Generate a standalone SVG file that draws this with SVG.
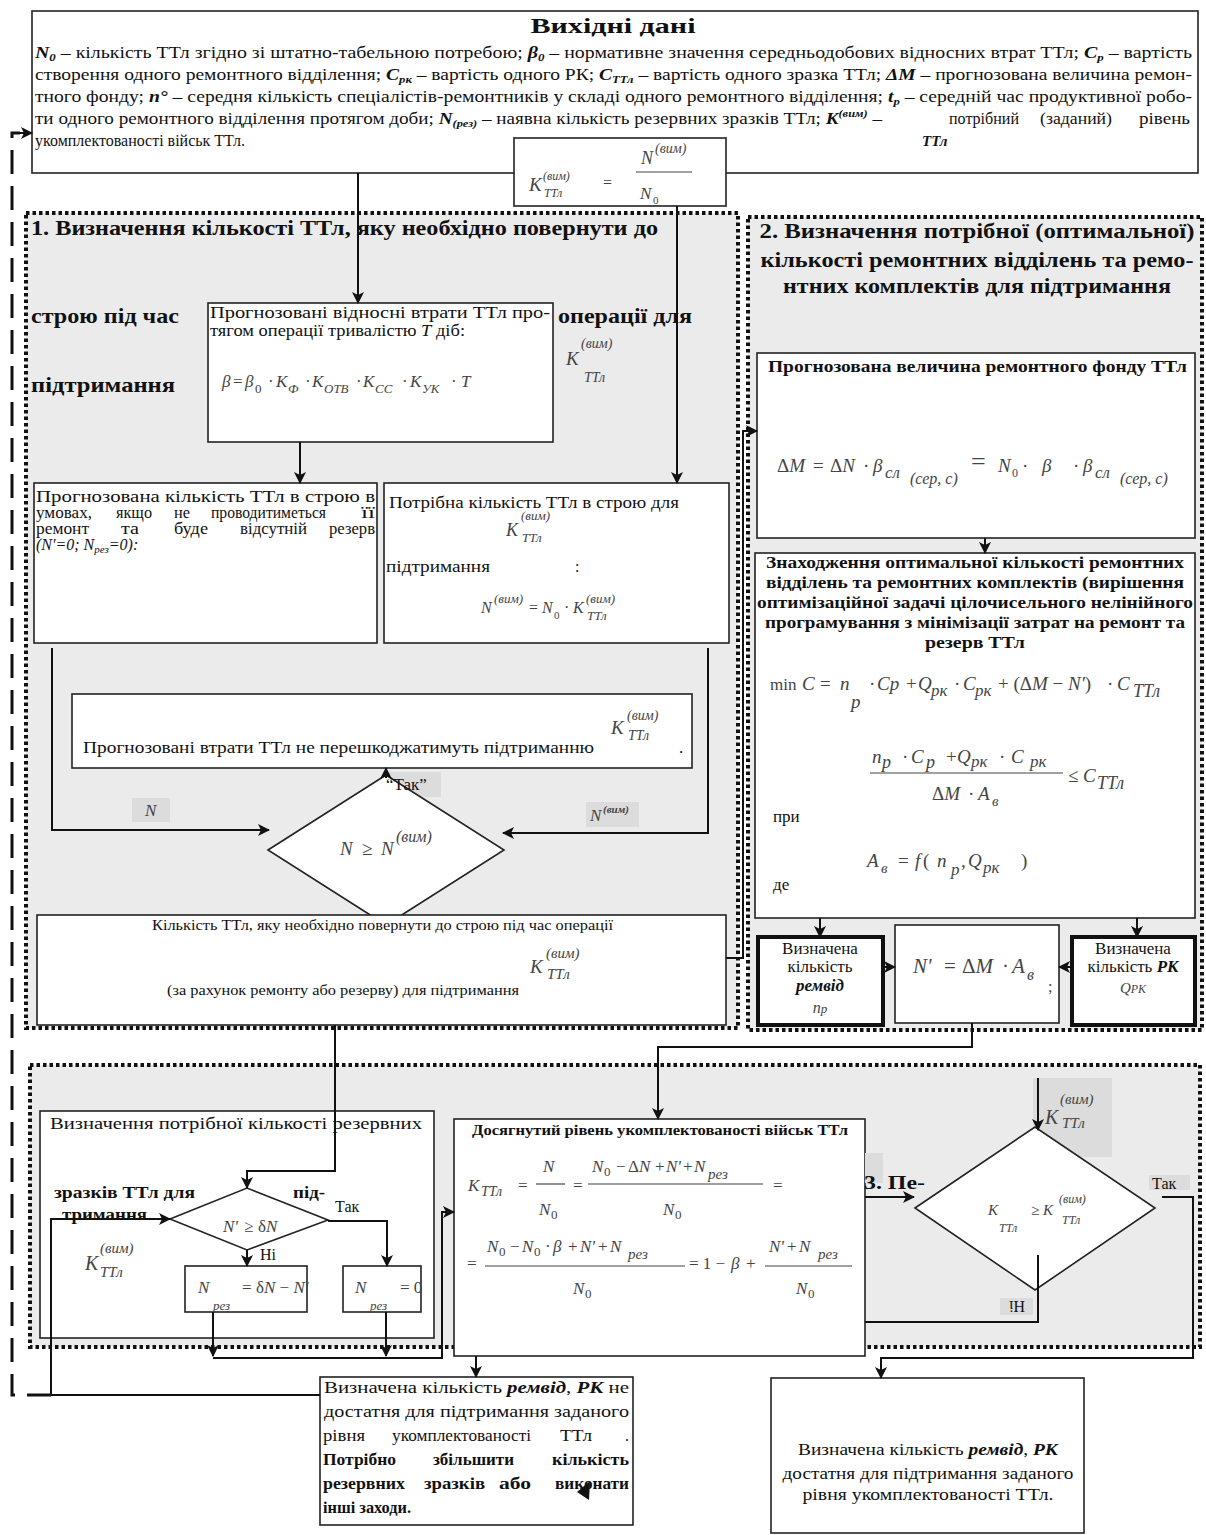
<svg xmlns="http://www.w3.org/2000/svg" width="1206" height="1535" viewBox="0 0 1206 1535">
<defs>
<style>
.t{font-family:"Liberation Serif","Times New Roman",serif;fill:#111}
.b{font-weight:bold}
.i{font-style:italic}
.bi{font-weight:bold;font-style:italic}
.m{font-family:"Liberation Serif","Times New Roman",serif;font-style:italic;fill:#444}
.u{font-style:normal}
.e{text-anchor:end}
.box{fill:#fff;stroke:#222;stroke-width:1.6}
.tb{fill:#fff;stroke:#111;stroke-width:4}
.sec{fill:#ebebeb;stroke:#111;stroke-width:4;stroke-dasharray:3.5 3}
.lab{fill:#dcdcdc}
.ln{fill:none;stroke:#111;stroke-width:2}
.arr{marker-end:url(#ah)}
.dash{fill:none;stroke:#111;stroke-width:3;stroke-dasharray:24 12}
.bar{stroke:#444;stroke-width:1.2}
</style>
<marker id="ah" markerUnits="userSpaceOnUse" markerWidth="12" markerHeight="12" refX="11" refY="6" orient="auto">
<path d="M0,0 L12,6 L0,12 L3,6 z" fill="#111"/>
</marker>
</defs>
<rect width="1206" height="1535" fill="#fff"/>

<g id="sections">
<rect class="sec" x="26" y="213" width="712" height="815"/>
<rect class="sec" x="748" y="217" width="454" height="813"/>
<rect class="sec" x="30" y="1065" width="1170" height="282"/>
</g>

<g id="node-input">
<rect class="box" x="32" y="11" width="1166" height="162"/>
<text class="t b" x="613" y="33" font-size="20" text-anchor="middle" textLength="165" lengthAdjust="spacingAndGlyphs">Вихідні дані</text>
<text class="t" x="35" y="58" font-size="17" textLength="1157" lengthAdjust="spacingAndGlyphs"><tspan class="bi">N</tspan><tspan class="bi" font-size="11" dy="3">0</tspan><tspan dy="-3"> – кількість ТТл згідно зі штатно-табельною потребою; </tspan><tspan class="bi">β</tspan><tspan class="bi" font-size="11" dy="3">0</tspan><tspan dy="-3"> – нормативне значення середньодобових відносних втрат ТТл; </tspan><tspan class="bi">C</tspan><tspan class="bi" font-size="11" dy="3">p</tspan><tspan dy="-3"> – вартість</tspan></text>
<text class="t" x="35" y="80" font-size="17" textLength="1157" lengthAdjust="spacingAndGlyphs">створення одного ремонтного відділення; <tspan class="bi">C</tspan><tspan class="bi" font-size="11" dy="3">рк</tspan><tspan dy="-3"> – вартість одного РК; </tspan><tspan class="bi">C</tspan><tspan class="bi" font-size="11" dy="3">ТТл</tspan><tspan dy="-3"> – вартість одного зразка ТТл; </tspan><tspan class="bi">ΔM</tspan> – прогнозована величина ремон-</text>
<text class="t" x="35" y="102" font-size="17" textLength="1157" lengthAdjust="spacingAndGlyphs">тного фонду; <tspan class="bi">n°</tspan> – середня кількість спеціалістів-ремонтників у складі одного ремонтного відділення; <tspan class="bi">t</tspan><tspan class="bi" font-size="11" dy="3">р</tspan><tspan dy="-3"> – середній час продуктивної робо-</tspan></text>
<text class="t" x="35" y="124" font-size="17" textLength="847" lengthAdjust="spacingAndGlyphs">ти одного ремонтного відділення протягом доби; <tspan class="bi">N</tspan><tspan class="bi" font-size="11" dy="3">(рез)</tspan><tspan dy="-3"> –  наявна кількість резервних зразків ТТл; </tspan><tspan class="bi">K</tspan><tspan class="bi" font-size="11" dy="-7">(вим)</tspan><tspan dy="7"> –</tspan></text>
<text class="t bi" x="922" y="146" font-size="15">ТТл</text>
<text class="t" x="949" y="124" font-size="17" textLength="70" lengthAdjust="spacingAndGlyphs">потрібний</text>
<text class="t" x="1040" y="124" font-size="17" textLength="72" lengthAdjust="spacingAndGlyphs">(заданий)</text>
<text class="t" x="1139" y="124" font-size="17" textLength="51" lengthAdjust="spacingAndGlyphs">рівень</text>
<text class="t" x="35" y="146" font-size="17" textLength="210" lengthAdjust="spacingAndGlyphs">укомплектованості військ ТТл.</text>
</g>

<g id="node-kreq">
<rect class="box" x="514" y="138" width="212" height="68"/>
<text class="m" font-size="19"><tspan x="529" y="191">K</tspan><tspan x="543" y="180" font-size="12">(вим)</tspan><tspan x="544" y="197" font-size="12">ТТл</tspan><tspan x="603" y="188" class="u" font-size="16">=</tspan><tspan x="641" y="164" font-size="18">N</tspan><tspan x="655" y="153" font-size="14">(вим)</tspan><tspan x="640" y="199" font-size="17">N</tspan><tspan x="653" y="204" font-size="11" class="u">0</tspan></text>
<line class="bar" x1="636" y1="172" x2="692" y2="172"/>
</g>

<g id="sec1-title">
<text class="t b" x="31" y="235" font-size="22" textLength="627" lengthAdjust="spacingAndGlyphs">1. Визначення кількості ТТл, яку необхідно повернути до</text>
<text class="t b" x="31" y="323" font-size="22" textLength="148" lengthAdjust="spacingAndGlyphs">строю під час</text>
<text class="t b" x="558" y="323" font-size="22" textLength="134" lengthAdjust="spacingAndGlyphs">операції для</text>
<text class="t b" x="31" y="392" font-size="22" textLength="144" lengthAdjust="spacingAndGlyphs">підтримання</text>
<text class="m" font-size="19"><tspan x="566" y="365">K</tspan><tspan x="581" y="348" font-size="14">(вим)</tspan><tspan x="584" y="382" font-size="14">ТТл</tspan></text>
</g>

<g id="node-beta">
<rect class="box" x="208" y="303" width="345" height="139"/>
<text class="t" x="210" y="318" font-size="16" textLength="340" lengthAdjust="spacingAndGlyphs">Прогнозовані відносні втрати ТТл про-</text>
<text class="t" x="210" y="336" font-size="16" textLength="255" lengthAdjust="spacingAndGlyphs">тягом операції тривалістю <tspan class="i">T</tspan> діб:</text>
<text class="m" font-size="17"><tspan x="222" y="387">β</tspan><tspan x="233" y="387" class="u">=</tspan><tspan x="245" y="387">β</tspan><tspan x="255" y="393" font-size="13" class="u">0</tspan><tspan x="268" y="387" class="u">·</tspan><tspan x="276" y="387">K</tspan><tspan x="288" y="393" font-size="13">Ф</tspan><tspan x="305" y="387" class="u">·</tspan><tspan x="312" y="387">K</tspan><tspan x="324" y="393" font-size="13">ОТВ</tspan><tspan x="356" y="387" class="u">·</tspan><tspan x="363" y="387">K</tspan><tspan x="375" y="393" font-size="13">СС</tspan><tspan x="402" y="387" class="u">·</tspan><tspan x="410" y="387">K</tspan><tspan x="422" y="393" font-size="13">УК</tspan><tspan x="451" y="387" class="u">·</tspan><tspan x="461" y="387">T</tspan></text>
</g>

<g id="node-nforecast">
<rect class="box" x="34" y="483" width="343" height="160"/>
<text class="t" x="36" y="502" font-size="16" textLength="339" lengthAdjust="spacingAndGlyphs">Прогнозована кількість ТТл в строю в</text>
<text class="t" x="36" y="518" font-size="16" textLength="56" lengthAdjust="spacingAndGlyphs">умовах,</text>
<text class="t" x="116" y="518" font-size="16" textLength="36" lengthAdjust="spacingAndGlyphs">якщо</text>
<text class="t" x="174" y="518" font-size="16" textLength="16" lengthAdjust="spacingAndGlyphs">не</text>
<text class="t" x="211" y="518" font-size="16" textLength="115" lengthAdjust="spacingAndGlyphs">проводитиметься</text>
<text class="t" x="361" y="518" font-size="16" textLength="14" lengthAdjust="spacingAndGlyphs">її</text>
<text class="t" x="36" y="534" font-size="16" textLength="53" lengthAdjust="spacingAndGlyphs">ремонт</text>
<text class="t" x="121" y="534" font-size="16" textLength="18" lengthAdjust="spacingAndGlyphs">та</text>
<text class="t" x="174" y="534" font-size="16" textLength="34" lengthAdjust="spacingAndGlyphs">буде</text>
<text class="t" x="240" y="534" font-size="16" textLength="67" lengthAdjust="spacingAndGlyphs">відсутній</text>
<text class="t" x="329" y="534" font-size="16" textLength="46" lengthAdjust="spacingAndGlyphs">резерв</text>
<text class="t i" x="36" y="550" font-size="16">(N'=0; N<tspan font-size="11" dy="3">рез</tspan><tspan dy="-3">=0):</tspan></text>
</g>

<g id="node-nreq">
<rect class="box" x="384" y="483" width="345" height="160"/>
<text class="t" x="389" y="508" font-size="16" textLength="290" lengthAdjust="spacingAndGlyphs">Потрібна кількість ТТл в строю для</text>
<text class="m" font-size="18"><tspan x="506" y="536">K</tspan><tspan x="521" y="520" font-size="13">(вим)</tspan><tspan x="522" y="542" font-size="13">ТТл</tspan></text>
<text class="t" x="386" y="572" font-size="16" textLength="104" lengthAdjust="spacingAndGlyphs">підтримання</text>
<text class="t" x="575" y="572" font-size="16">:</text>
<text class="m" font-size="16"><tspan x="481" y="613">N</tspan><tspan x="494" y="603" font-size="13">(вим)</tspan><tspan x="529" y="613" class="u">=</tspan><tspan x="542" y="613">N</tspan><tspan x="554" y="619" font-size="11" class="u">0</tspan><tspan x="564" y="613" class="u">·</tspan><tspan x="573" y="613">K</tspan><tspan x="586" y="603" font-size="13">(вим)</tspan><tspan x="587" y="620" font-size="13">ТТл</tspan></text>
</g>

<g id="node-ok1">
<rect class="box" x="72" y="694" width="620" height="74"/>
<text class="t" x="83" y="753" font-size="17" textLength="511" lengthAdjust="spacingAndGlyphs">Прогнозовані втрати ТТл не перешкоджатимуть підтриманню</text>
<text class="m" font-size="19"><tspan x="611" y="734">K</tspan><tspan x="627" y="720" font-size="14">(вим)</tspan><tspan x="628" y="740" font-size="14">ТТл</tspan></text>
<text class="t" x="679" y="753" font-size="17">.</text>
</g>

<g id="labels-sec1">
<rect class="lab" x="132" y="798" width="38" height="24"/>
<text class="m" x="145" y="816" font-size="17">N</text>
<rect class="lab" x="586" y="802" width="53" height="25"/>
<text class="m" font-size="17"><tspan x="590" y="821">N</tspan><tspan x="603" y="813" font-size="11" font-weight="bold">(вим)</tspan></text>
<rect class="lab" x="387" y="772" width="54" height="25"/>
</g>

<g id="node-dec1">
<polygon class="box" points="268,850 386,775 504,850 386,925"/>
<text class="m" font-size="19"><tspan x="340" y="855">N</tspan><tspan x="362" y="855" class="u">≥</tspan><tspan x="381" y="855">N</tspan><tspan x="396" y="842" font-size="16">(вим)</tspan></text>
<text class="t" x="386" y="790" font-size="17">“Так”</text>
</g>

<g id="node-nreturn">
<rect class="box" x="37" y="915" width="689" height="110"/>
<text class="t" x="152" y="930" font-size="15" textLength="461" lengthAdjust="spacingAndGlyphs">Кількість ТТл, яку необхідно повернути до строю під час операції</text>
<text class="m" font-size="19"><tspan x="530" y="973">K</tspan><tspan x="546" y="958" font-size="15">(вим)</tspan><tspan x="547" y="979" font-size="15">ТТл</tspan></text>
<text class="t" x="167" y="995" font-size="15" textLength="352" lengthAdjust="spacingAndGlyphs">(за рахунок ремонту або резерву) для підтримання</text>
</g>

<g id="sec2-title">
<text class="t b" x="977" y="238" font-size="22" text-anchor="middle" textLength="435" lengthAdjust="spacingAndGlyphs">2. Визначення потрібної (оптимальної)</text>
<text class="t b" x="977" y="267" font-size="22" text-anchor="middle" textLength="433" lengthAdjust="spacingAndGlyphs">кількості ремонтних відділень та ремо-</text>
<text class="t b" x="977" y="293" font-size="22" text-anchor="middle" textLength="388" lengthAdjust="spacingAndGlyphs">нтних комплектів для підтримання</text>
</g>

<g id="node-fund">
<rect class="box" x="757" y="353" width="438" height="185"/>
<text class="t b" x="768" y="372" font-size="17" textLength="419" lengthAdjust="spacingAndGlyphs">Прогнозована величина ремонтного фонду ТТл</text>
<text class="m" font-size="19"><tspan x="777" y="472" class="u">Δ</tspan><tspan>M</tspan><tspan x="813" y="472" class="u">=</tspan><tspan x="830" y="472" class="u">Δ</tspan><tspan>N</tspan><tspan x="863" y="472" class="u">·</tspan><tspan x="873" y="472">β</tspan><tspan x="885" y="478" font-size="17">сл</tspan><tspan x="910" y="484" font-size="16">(сер, с)</tspan><tspan x="971" y="470" class="u" font-size="26">=</tspan><tspan x="998" y="472">N</tspan><tspan x="1012" y="477" font-size="12" class="u">0</tspan><tspan x="1022" y="472" class="u">·</tspan><tspan x="1042" y="472">β</tspan><tspan x="1073" y="472" class="u">·</tspan><tspan x="1083" y="472">β</tspan><tspan x="1095" y="478" font-size="17">сл</tspan><tspan x="1120" y="484" font-size="16">(сер, с)</tspan></text>
</g>

<g id="node-optim">
<rect class="box" x="755" y="553" width="440" height="365"/>
<text class="t b" x="975" y="568" font-size="16" text-anchor="middle" textLength="418" lengthAdjust="spacingAndGlyphs">Знаходження оптимальної кількості ремонтних</text>
<text class="t b" x="975" y="588" font-size="16" text-anchor="middle" textLength="418" lengthAdjust="spacingAndGlyphs">відділень та ремонтних комплектів (вирішення</text>
<text class="t b" x="975" y="608" font-size="16" text-anchor="middle" textLength="436" lengthAdjust="spacingAndGlyphs">оптимізаційної задачі цілочисельного нелінійного</text>
<text class="t b" x="975" y="628" font-size="16" text-anchor="middle" textLength="420" lengthAdjust="spacingAndGlyphs">програмування з мінімізації затрат на ремонт та</text>
<text class="t b" x="975" y="648" font-size="16" text-anchor="middle" textLength="100" lengthAdjust="spacingAndGlyphs">резерв ТТл</text>
<text class="m" font-size="19"><tspan x="770" y="690" class="u" font-size="17">min</tspan><tspan x="802" y="690">C</tspan><tspan x="820" y="690" class="u">=</tspan><tspan x="840" y="690">n</tspan><tspan x="851" y="708">p</tspan><tspan x="869" y="690" class="u">·</tspan><tspan x="877" y="690">Cp</tspan><tspan x="906" y="690" class="u">+</tspan><tspan x="918" y="690">Q</tspan><tspan x="931" y="696" font-size="17">рк</tspan><tspan x="954" y="690" class="u">·</tspan><tspan x="963" y="690">C</tspan><tspan x="975" y="696" font-size="17">рк</tspan><tspan x="998" y="690" class="u">+ (Δ</tspan><tspan>M</tspan><tspan class="u"> − </tspan><tspan>N'</tspan><tspan class="u">)</tspan><tspan x="1107" y="690" class="u">·</tspan><tspan x="1117" y="690">C</tspan><tspan x="1133" y="697" font-size="18">ТТл</tspan></text>
<text class="m" font-size="19"><tspan x="872" y="763">n</tspan><tspan x="882" y="768" font-size="18">p</tspan><tspan x="902" y="763" class="u">·</tspan><tspan x="911" y="763">C</tspan><tspan x="926" y="768" font-size="18">p</tspan><tspan x="946" y="763" class="u">+</tspan><tspan x="957" y="763">Q</tspan><tspan x="971" y="767" font-size="17">рк</tspan><tspan x="999" y="763" class="u">·</tspan><tspan x="1011" y="763">C</tspan><tspan x="1030" y="767" font-size="17">рк</tspan></text>
<line class="bar" x1="870" y1="773" x2="1063" y2="773"/>
<text class="m" font-size="19"><tspan x="932" y="800" class="u">Δ</tspan><tspan>M</tspan><tspan x="968" y="800" class="u">·</tspan><tspan x="978" y="800">A</tspan><tspan x="992" y="806" font-size="15">в</tspan></text>
<text class="m" font-size="19"><tspan x="1068" y="782" class="u">≤</tspan><tspan x="1083" y="782">C</tspan><tspan x="1097" y="789" font-size="18">ТТл</tspan></text>
<text class="t" x="773" y="822" font-size="17">при</text>
<text class="m" font-size="19"><tspan x="867" y="867">A</tspan><tspan x="881" y="873" font-size="15">в</tspan><tspan x="898" y="867" class="u">=</tspan><tspan x="915" y="867">f</tspan><tspan x="923" y="867" class="u">(</tspan><tspan x="937" y="867">n</tspan><tspan x="951" y="875" font-size="17">p</tspan><tspan x="961" y="867" class="u">,</tspan><tspan x="968" y="867">Q</tspan><tspan x="983" y="873" font-size="17">рк</tspan><tspan x="1021" y="867" class="u">)</tspan></text>
<text class="t" x="773" y="890" font-size="17">де</text>
</g>

<g id="node-remvid">
<rect class="tb" x="758" y="937" width="125" height="88"/>
<text class="t" x="820" y="954" font-size="17" text-anchor="middle">Визначена</text>
<text class="t" x="820" y="972" font-size="17" text-anchor="middle">кількість</text>
<text class="t bi" x="820" y="991" font-size="17" text-anchor="middle">ремвід</text>
<text class="m" x="820" y="1013" font-size="16" text-anchor="middle">n<tspan font-size="13">p</tspan></text>
</g>

<g id="node-nprime">
<rect class="box" x="895" y="925" width="164" height="98"/>
<text class="m" font-size="21"><tspan x="913" y="973">N'</tspan><tspan x="944" y="973" class="u">=</tspan><tspan x="962" y="973" class="u">Δ</tspan><tspan>M</tspan><tspan x="1002" y="973" class="u">·</tspan><tspan x="1012" y="973">A</tspan><tspan x="1027" y="980" font-size="16">в</tspan><tspan x="1048" y="992" class="u" font-size="16">;</tspan></text>
</g>

<g id="node-rk">
<rect class="tb" x="1072" y="937" width="123" height="88"/>
<text class="t" x="1133" y="954" font-size="17" text-anchor="middle">Визначена</text>
<text class="t" x="1133" y="972" font-size="17" text-anchor="middle">кількість <tspan class="bi">РК</tspan></text>
<text class="m" x="1133" y="993" font-size="15" text-anchor="middle">Q<tspan font-size="12">РК</tspan></text>
</g>

<g id="node-reserve">
<rect class="box" x="40" y="1111" width="394" height="227"/>
<text class="t" x="50" y="1129" font-size="17" textLength="372" lengthAdjust="spacingAndGlyphs">Визначення потрібної кількості резервних</text>
<text class="t b" x="54" y="1198" font-size="17" textLength="141" lengthAdjust="spacingAndGlyphs">зразків ТТл для</text>
<text class="t b" x="293" y="1198" font-size="17" textLength="32" lengthAdjust="spacingAndGlyphs">під-</text>
<text class="t b" x="62" y="1220" font-size="17" textLength="85" lengthAdjust="spacingAndGlyphs">тримання</text>
<text class="m" font-size="20"><tspan x="85" y="1270">K</tspan><tspan x="100" y="1253" font-size="15">(вим)</tspan><tspan x="100" y="1277" font-size="15">ТТл</tspan></text>
</g>

<g id="node-dec2">
<polygon class="box" points="170,1219 247,1188 328,1220 247,1250"/>
<text class="m" font-size="17"><tspan x="223" y="1232">N'</tspan><tspan x="244" y="1232" class="u">≥</tspan><tspan x="258" y="1232" class="u">δ</tspan><tspan>N</tspan></text>
<text class="t" x="335" y="1212" font-size="16">Так</text>
<text class="t" x="260" y="1260" font-size="16">Ні</text>
</g>

<g id="node-nrez1">
<rect class="box" x="185" y="1266" width="122" height="46"/>
<text class="m" font-size="17"><tspan x="198" y="1293">N</tspan><tspan x="213" y="1310" font-size="13">рез</tspan><tspan x="242" y="1293" class="u">=</tspan><tspan x="256" y="1293" class="u">δ</tspan><tspan>N</tspan><tspan class="u"> − </tspan><tspan>N'</tspan></text>
</g>

<g id="node-nrez2">
<rect class="box" x="343" y="1266" width="78" height="46"/>
<text class="m" font-size="17"><tspan x="355" y="1293">N</tspan><tspan x="370" y="1310" font-size="13">рез</tspan><tspan x="400" y="1293" class="u">= 0</tspan></text>
</g>

<g id="node-achieved">
<rect class="box" x="454" y="1119" width="411" height="237"/>
<text class="t b" x="472" y="1135" font-size="15" textLength="376" lengthAdjust="spacingAndGlyphs">Досягнутий рівень укомплектованості військ ТТл</text>
<text class="m" font-size="17"><tspan x="468" y="1191">K</tspan><tspan x="481" y="1196" font-size="14">ТТл</tspan><tspan x="518" y="1191" class="u">=</tspan><tspan x="543" y="1172">N</tspan><tspan x="539" y="1215">N</tspan><tspan x="551" y="1219" font-size="13" class="u">0</tspan><tspan x="573" y="1191" class="u">=</tspan><tspan x="592" y="1172">N</tspan><tspan x="604" y="1176" font-size="13" class="u">0</tspan><tspan x="616" y="1172" class="u">−</tspan><tspan x="628" y="1172" class="u">Δ</tspan><tspan>N</tspan><tspan x="655" y="1172" class="u">+</tspan><tspan x="666" y="1172">N'</tspan><tspan x="683" y="1172" class="u">+</tspan><tspan x="694" y="1172">N</tspan><tspan x="708" y="1179" font-size="15">рез</tspan><tspan x="663" y="1215">N</tspan><tspan x="675" y="1219" font-size="13" class="u">0</tspan><tspan x="773" y="1191" class="u">=</tspan></text>
<line class="bar" x1="536" y1="1184" x2="565" y2="1184"/>
<line class="bar" x1="588" y1="1184" x2="763" y2="1184"/>
<text class="m" font-size="17"><tspan x="467" y="1269" class="u">=</tspan><tspan x="487" y="1252">N</tspan><tspan x="499" y="1256" font-size="13" class="u">0</tspan><tspan x="510" y="1252" class="u">−</tspan><tspan x="522" y="1252">N</tspan><tspan x="534" y="1256" font-size="13" class="u">0</tspan><tspan x="545" y="1252" class="u">·</tspan><tspan x="553" y="1252">β</tspan><tspan x="568" y="1252" class="u">+</tspan><tspan x="580" y="1252">N'</tspan><tspan x="598" y="1252" class="u">+</tspan><tspan x="610" y="1252">N</tspan><tspan x="628" y="1259" font-size="15">рез</tspan><tspan x="573" y="1294">N</tspan><tspan x="585" y="1298" font-size="13" class="u">0</tspan><tspan x="689" y="1269" class="u">= 1 −</tspan><tspan x="731" y="1269">β</tspan><tspan x="746" y="1269" class="u">+</tspan><tspan x="769" y="1252">N'</tspan><tspan x="787" y="1252" class="u">+</tspan><tspan x="799" y="1252">N</tspan><tspan x="818" y="1259" font-size="15">рез</tspan><tspan x="796" y="1294">N</tspan><tspan x="808" y="1298" font-size="13" class="u">0</tspan></text>
<line class="bar" x1="485" y1="1266" x2="685" y2="1266"/>
<line class="bar" x1="765" y1="1266" x2="852" y2="1266"/>
</g>

<g id="node-dec3">
<rect class="lab" x="865" y="1153" width="18" height="30"/>
<text class="t b" x="864" y="1189" font-size="19" textLength="61" lengthAdjust="spacingAndGlyphs">3. Пе-</text>
<rect class="lab" x="1033" y="1078" width="79" height="79"/>
<polygon class="box" points="915,1208 1035,1127 1155,1208 1035,1290"/>
<text class="m" font-size="20"><tspan x="1045" y="1124">K</tspan><tspan x="1060" y="1104" font-size="15">(вим)</tspan><tspan x="1062" y="1128" font-size="15">ТТл</tspan></text>
<text class="m" font-size="15"><tspan x="988" y="1215">K</tspan><tspan x="999" y="1232" font-size="12">ТТл</tspan><tspan x="1031" y="1215" class="u">≥</tspan><tspan x="1043" y="1215">K</tspan><tspan x="1059" y="1203" font-size="12">(вим)</tspan><tspan x="1062" y="1224" font-size="12">ТТл</tspan></text>
<rect class="lab" x="1149" y="1175" width="41" height="15"/>
<text class="t" x="1152" y="1189" font-size="16">Так</text>
<rect class="lab" x="1000" y="1298" width="33" height="17"/>
<text class="t" x="0" y="0" font-size="16" text-anchor="middle" transform="translate(1017,1301) rotate(180)">Ні</text>
</g>

<g id="node-notenough">
<rect class="box" x="320" y="1377" width="313" height="148"/>
<text class="t" x="324" y="1393" font-size="16" textLength="305" lengthAdjust="spacingAndGlyphs">Визначена кількість <tspan class="bi">ремвід</tspan>, <tspan class="bi">РК</tspan>  не</text>
<text class="t" x="324" y="1417" font-size="16" textLength="305" lengthAdjust="spacingAndGlyphs">достатня для підтримання заданого</text>
<text class="t" x="323" y="1441" font-size="16" textLength="42" lengthAdjust="spacingAndGlyphs">рівня</text>
<text class="t" x="392" y="1441" font-size="16" textLength="139" lengthAdjust="spacingAndGlyphs">укомплектованості</text>
<text class="t" x="560" y="1441" font-size="16" textLength="32" lengthAdjust="spacingAndGlyphs">ТТл</text>
<text class="t" x="625" y="1441" font-size="16">.</text>
<text class="t b" x="323" y="1465" font-size="16" textLength="73" lengthAdjust="spacingAndGlyphs">Потрібно</text>
<text class="t b" x="433" y="1465" font-size="16" textLength="81" lengthAdjust="spacingAndGlyphs">збільшити</text>
<text class="t b" x="552" y="1465" font-size="16" textLength="77" lengthAdjust="spacingAndGlyphs">кількість</text>
<text class="t b" x="323" y="1489" font-size="16" textLength="82" lengthAdjust="spacingAndGlyphs">резервних</text>
<text class="t b" x="424" y="1489" font-size="16" textLength="61" lengthAdjust="spacingAndGlyphs">зразків</text>
<text class="t b" x="499" y="1489" font-size="16" textLength="32" lengthAdjust="spacingAndGlyphs">або</text>
<text class="t b" x="555" y="1489" font-size="16" textLength="74" lengthAdjust="spacingAndGlyphs">виконати</text>
<text class="t b" x="323" y="1513" font-size="16" textLength="88" lengthAdjust="spacingAndGlyphs">інші заходи.</text>
<polygon points="577,1492 590,1481 589,1500" fill="#111"/>
</g>

<g id="node-enough">
<rect class="box" x="771" y="1378" width="313" height="155"/>
<text class="t" x="928" y="1455" font-size="16" text-anchor="middle" textLength="260" lengthAdjust="spacingAndGlyphs">Визначена кількість <tspan class="bi">ремвід</tspan>, <tspan class="bi">РК</tspan></text>
<text class="t" x="928" y="1479" font-size="16" text-anchor="middle" textLength="291" lengthAdjust="spacingAndGlyphs">достатня для підтримання заданого</text>
<text class="t" x="928" y="1500" font-size="16" text-anchor="middle" textLength="251" lengthAdjust="spacingAndGlyphs">рівня укомплектованості ТТл.</text>
</g>

<g id="connectors">
<path class="dash" d="M51,1395 H12 V133 H20"/>
<path class="ln arr" d="M12,133 H32"/>
<path class="ln arr" d="M358,173 V303"/>
<path class="ln arr" d="M677,206 V483"/>
<path class="ln arr" d="M300,442 V483"/>
<path class="ln arr" d="M52,648 V830 H269"/>
<path class="ln arr" d="M708,648 V833 H503"/>
<path class="ln arr" d="M386,778 V768"/>
<path class="ln arr" d="M726,958 H743 V431 H757"/>
<path class="ln arr" d="M985,538 V553"/>
<path class="ln arr" d="M820,918 V937"/>
<path class="ln arr" d="M1137,918 V937"/>
<path class="ln arr" d="M883,967 H895"/>
<path class="ln arr" d="M1072,967 H1059"/>
<path class="ln arr" d="M972,1023 V1047 H658 V1119"/>
<path class="ln arr" d="M335,1025 V1171 H247 V1188"/>
<path class="ln arr" d="M320,1395 H51 V1219 H170"/>
<path class="ln arr" d="M328,1221 H387 V1266"/>
<path class="ln arr" d="M247,1250 V1266"/>
<path class="ln arr" d="M213,1312 V1356"/>
<path class="ln arr" d="M386,1312 V1356"/>
<path class="ln arr" d="M213,1358 H442 V1212 H454"/>
<path class="ln arr" d="M865,1197 H914"/>
<path class="ln arr" d="M1038,1078 V1130"/>
<path class="ln" d="M1038,1255 V1322 H865"/>
<path class="ln arr" d="M1162,1197 H1193 V1358 H881 V1378"/>
<path class="ln arr" d="M476,1356 V1377"/>
</g>
</svg>
